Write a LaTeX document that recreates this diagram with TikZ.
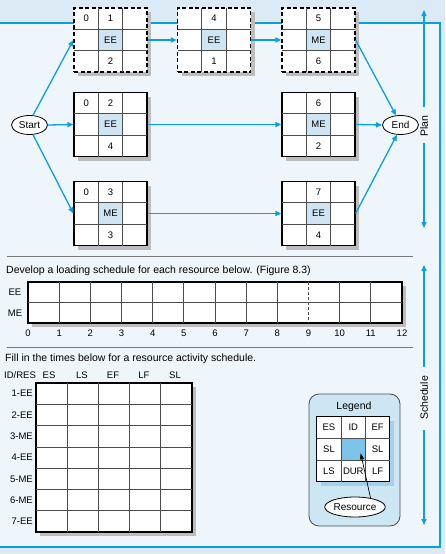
\documentclass[tikz,border=0pt]{standalone}
\usepackage{fontspec}
\setmainfont{Liberation Sans}
\usetikzlibrary{arrows.meta,shapes.geometric}
\definecolor{bandbg}{HTML}{DCEAF6}
\definecolor{panelbg}{HTML}{EEF5FB}
\definecolor{lineblue}{HTML}{0AA0DC}
\definecolor{cellblue}{HTML}{CFE5F3}
\definecolor{shadowgray}{HTML}{BDBDBD}
\definecolor{sepgray}{HTML}{7A7A7A}
\definecolor{legfill}{HTML}{CDE6F4}
\definecolor{legcell}{HTML}{7CC4EA}
\definecolor{legshadow}{HTML}{A3D0EA}
\tikzset{
  barrow/.style={draw=lineblue, line width=1.3pt, -{Triangle[length=6pt,width=5pt]}},
  actbox/.style={draw=black, line width=1.2pt, fill=white, minimum width=73pt, minimum height=64pt, inner sep=0pt},
  dashbox/.style={dash pattern=on 4pt off 2.5pt},
  gridln/.style={draw=black!70, line width=0.7pt},
  ctext/.style={font=\fontsize{9.5}{11}\selectfont, inner sep=0pt},
  ttext/.style={font=\fontsize{10.5}{12}\selectfont, inner sep=0pt},
  terminal/.style={ellipse, draw=black, line width=0.8pt, fill=white, minimum width=36pt, minimum height=19pt, inner sep=0pt, font=\fontsize{10}{12}\selectfont},
  sepline/.style={draw=sepgray, line width=0.8pt},
  gridbox/.style={draw=black, line width=1.2pt, fill=white, inner sep=0pt},
  shadowfill/.style={fill=shadowgray},
}
\newcommand\ActBox[8]{%
  \fill[shadowfill] ({#2-32.5},{#3-28}) rectangle ({#2+40.5},{#3+36});
  \node[actbox,#8] (#1) at (#2,#3) {};
  \begin{scope}[shift={(#1.center)}]
    \fill[cellblue] (-12.17,-10.67) rectangle (12.17,10.67);
    \draw[gridln] (-12.17,-32) -- (-12.17,32) (12.17,-32) -- (12.17,32)
      (-36.5,-10.67) -- (36.5,-10.67) (-36.5,10.67) -- (36.5,10.67);
    \node[ctext] (#1es) at (-24.33,-21.33) {#4};
    \node[ctext] (#1id) at (0,-21.33) {#5};
    \node[ctext] (#1res) at (0,0) {#6};
    \node[ctext] (#1dur) at (0,21.33) {#7};
  \end{scope}
}
\begin{document}
\begin{tikzpicture}[x=1pt,y=-1pt]
\useasboundingbox (0,0) rectangle (445,554);
\fill[bandbg] (0,0) rectangle (445,554);
\draw[draw=lineblue, line width=1.3pt, fill=panelbg] (-5,23) rectangle (440,547);

% network
\ActBox{b1}{110.5}{40}{0}{1}{EE}{2}{dashbox}
\ActBox{b4}{214}{40}{}{4}{EE}{1}{dashbox}
\ActBox{b5}{318.5}{40}{}{5}{ME}{6}{dashbox}
\ActBox{b2}{110.5}{124.5}{0}{2}{EE}{4}{}
\ActBox{b6}{318.5}{124.5}{}{6}{ME}{2}{}
\ActBox{b3}{110.5}{213.5}{0}{3}{ME}{3}{}
\ActBox{b7}{318.5}{213.5}{}{7}{EE}{4}{}

\node[terminal] (start) at (29.5,125) {Start};
\node[terminal] (end) at (400.5,125) {End};

\draw[barrow] (start.70) -- (b1.west);
\draw[barrow] (start.east) -- (b2.west);
\draw[barrow] (start.290) -- (b3.west);
\draw[barrow] (b1.east) -- (b4.west);
\draw[barrow] (b4.east) -- (b5.west);
\draw[barrow] (b2.east) -- (b6.west);
\draw[barrow] (b3.east) -- (b7.west);
\draw[barrow] (b5.east) -- (end.115);
\draw[barrow] (b6.east) -- (end.west);
\draw[barrow] (b7.east) -- (end.250);

% plan / schedule side arrows
\node[ttext, rotate=90] (plan) at (424,126) {Plan};
\coordinate (planS) at (424,107);
\coordinate (planT) at (424,10);
\coordinate (planS2) at (424,143);
\coordinate (planB) at (424,228);
\draw[barrow] (planS) -- (planT);
\draw[barrow] (planS2) -- (planB);
\node[ttext, rotate=90] (sched) at (424,398) {Schedule};
\coordinate (schS) at (424,367);
\coordinate (schT) at (424,265);
\coordinate (schS2) at (424,430);
\coordinate (schB) at (424,525);
\draw[barrow] (schS) -- (schT);
\draw[barrow] (schS2) -- (schB);

% loading schedule
\draw[sepline] (7,256) -- (413,256);
\node[ttext, anchor=west] (devtxt) at (6,271) {Develop a loading schedule for each resource below. (Figure 8.3)};
\fill[shadowfill] (32,286) rectangle (406,327);
\node[gridbox, minimum width=374pt, minimum height=41pt] (load) at (215,302.5) {};
\draw[gridln] (28,302.5) -- (402,302.5);
\foreach \i in {1,...,8,10,11} \draw[gridln] ({28+\i*31.1667},282) -- ({28+\i*31.1667},323);
\draw[gridln, dash pattern=on 3pt off 2pt] ({28+9*31.1667},282) -- ({28+9*31.1667},323);
\foreach \i in {0,...,12} \node[ctext] (t\i) at ({28+\i*31.1667},333) {\i};
\node[ctext] (lee) at (15,292.5) {EE};
\node[ctext] (lme) at (15,313) {ME};
\draw[sepline] (7,347) -- (413,347);

% activity table
\node[ttext, anchor=west] (filltxt) at (5,359) {Fill in the times below for a resource activity schedule.};
\node[ctext] (hid) at (20,375) {ID/RES};
\node[ctext] (hes) at (49,375) {ES};
\node[ctext] (hls) at (82,375) {LS};
\node[ctext] (hef) at (113,375) {EF};
\node[ctext] (hlf) at (144,375) {LF};
\node[ctext] (hsl) at (175,375) {SL};
\fill[shadowfill] (40,387) rectangle (196,536);
\node[gridbox, minimum width=156pt, minimum height=149pt] (tab) at (114,457.5) {};
\foreach \i in {1,...,4} \draw[gridln] ({36+\i*31.2},383) -- ({36+\i*31.2},532);
\foreach \j in {1,...,6} \draw[gridln] (36,{383+\j*21.2857}) -- (192,{383+\j*21.2857});
\foreach \lab [count=\j] in {1-EE,2-EE,3-ME,4-EE,5-ME,6-ME,7-EE}
  \node[ctext, anchor=east] (r\j) at (33,{383+21.2857*(\j-0.5)}) {\lab};

% legend
\node[draw=black!70, line width=0.8pt, fill=legfill, rounded corners=10pt, minimum width=91pt, minimum height=132pt] (legbox) at (354.5,460) {};
\node[ttext] (legtitle) at (354,407) {Legend};
\fill[legshadow] (320.8,420.7) rectangle (393.8,485.7);
\node[draw=black, line width=0.9pt, fill=white, minimum width=73pt, minimum height=65pt, inner sep=0pt] (lg) at (353.3,449.2) {};
\begin{scope}[shift={(lg.center)}]
  \fill[legcell] (-12.17,-10.83) rectangle (12.17,10.83);
  \draw[gridln] (-12.17,-32.5) -- (-12.17,32.5) (12.17,-32.5) -- (12.17,32.5)
    (-36.5,-10.83) -- (36.5,-10.83) (-36.5,10.83) -- (36.5,10.83);
  \node[ctext] (lges) at (-24.33,-21.67) {ES};
  \node[ctext] (lgid) at (0,-21.67) {ID};
  \node[ctext] (lgef) at (24.33,-21.67) {EF};
  \node[ctext] (lgsl1) at (-24.33,0) {SL};
  \node[ctext] (lgsl2) at (24.33,0) {SL};
  \node[ctext] (lgls) at (-24.33,21.67) {LS};
  \node[ctext] (lgdur) at (0,21.67) {DUR};
  \node[ctext] (lglf) at (24.33,21.67) {LF};
\end{scope}
\coordinate (lgtip) at (360.7,453.3);
\node[ellipse, draw=black, line width=0.8pt, fill=white, minimum width=60pt, minimum height=20pt, inner sep=0pt, font=\fontsize{10}{12}\selectfont] (res) at (355,507) {Resource};
\draw[line width=0.7pt, -{Triangle[length=6pt,width=4pt]}] (res.30) -- (lgtip);
\end{tikzpicture}
\end{document}
